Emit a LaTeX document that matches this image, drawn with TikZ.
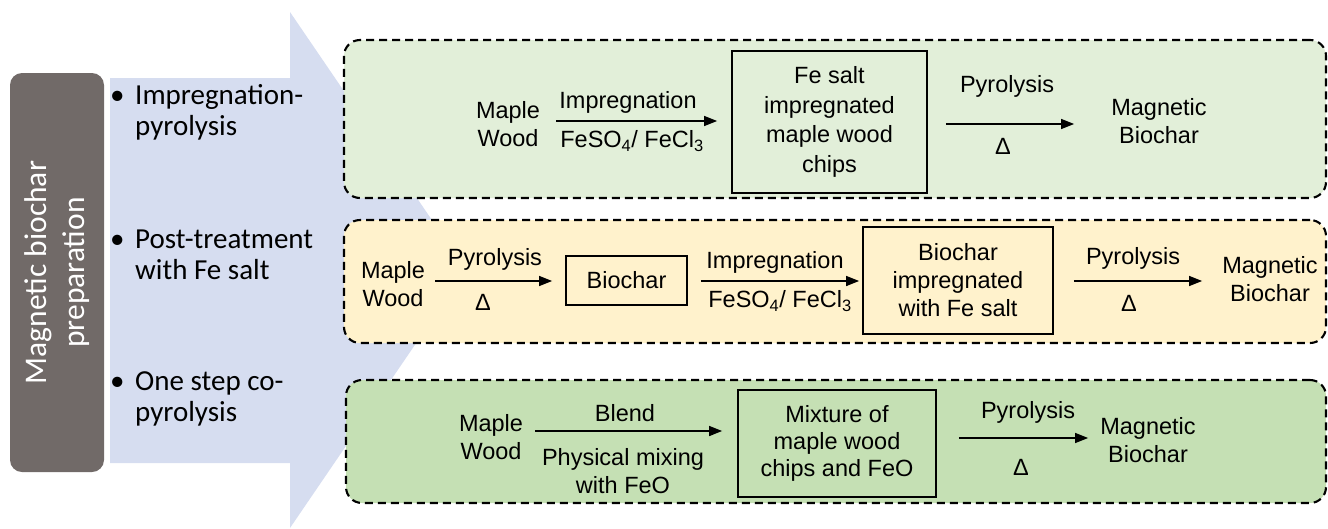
\documentclass[tikz,border=0pt]{standalone}
\usepackage{fontspec}
\setmainfont{Liberation Sans}
\newfontfamily\calib{Carlito}
\usetikzlibrary{arrows.meta,calc}
\definecolor{arrowblue}{HTML}{D6DDF0}
\definecolor{graybox}{HTML}{716A68}
\definecolor{lgreen}{HTML}{E2EFD9}
\definecolor{lyellow}{HTML}{FFF2CC}
\definecolor{mgreen}{HTML}{C5E0B4}
\begin{document}
\begin{tikzpicture}[x=1pt,y=-1pt,
  txt/.style={inner sep=0pt, align=center, font=\fontsize{23.5}{28}\selectfont},
  solidbox/.style={draw, line width=1.7pt, inner sep=0pt, align=center, font=\fontsize{23.5}{28}\selectfont},
  dashbox/.style={draw, line width=2.1pt, dash pattern=on 8pt off 5pt, rounded corners=16pt, inner sep=0pt},
  arr/.style={-{Triangle[length=13pt,width=10pt]}, line width=1.3pt},
  bulletitem/.style={anchor=west, inner sep=0pt, align=left, font=\calib\fontsize{29}{31}\selectfont}]
\useasboundingbox (0,0) rectangle (1328,528);
% big background arrow
\fill[arrowblue] (110,78) -- (290,78) -- (290,12) -- (466,270) -- (290,528) -- (290,463) -- (110,463) -- cycle;
% gray label box
\node[rotate=90, minimum width=399pt, minimum height=94pt, fill=graybox, rounded corners=12pt, text=white, align=center, inner sep=0pt, font=\calib\fontsize{31.5}{38}\selectfont] (gb) at (57,272.5) {Magnetic biochar\\preparation};
% bullets
\node[bulletitem] (bu1) at (110,112.5) {\makebox[25pt][l]{•}Impregnation-\\\hspace*{25pt}pyrolysis};
\node[bulletitem] (bu2) at (110,255) {\makebox[25pt][l]{•}Post-treatment\\\hspace*{25pt}with Fe salt};
\node[bulletitem] (bu3) at (110,399) {\makebox[25pt][l]{•}One step co-\\\hspace*{25pt}pyrolysis};
% dashed row boxes
\node[dashbox, fill=lgreen, minimum width=982pt, minimum height=158pt] (r1) at (835,119) {};
\node[dashbox, fill=lyellow, minimum width=982pt, minimum height=123pt] (r2) at (835,281.5) {};
\node[dashbox, fill=mgreen, minimum width=980pt, minimum height=123pt] (r3) at (836,441.5) {};
% row 1
\node[txt] (m1) at (508,124) {Maple\\Wood};
\node[txt] (i1) at (628,102) {Impregnation};
\node[txt] (f1) at (632,141) {FeSO\textsubscript{4}/ FeCl\textsubscript{3}};
\node[solidbox, minimum width=195pt, minimum height=142pt, font=\fontsize{23.5}{29.5}\selectfont] (b1) at (829.5,122) {Fe salt\\impregnated\\maple wood\\chips};
\node[txt] (p1) at (1007,86) {Pyrolysis};
\node[txt] (d1) at (1003,146) {Δ};
\node[txt] (o1) at (1159,121) {Magnetic\\Biochar};
\draw[arr, shorten <=16pt, shorten >=14pt] (m1.east |- 0,121) -- (b1.west |- 0,121);
\draw[arr, shorten <=18pt, shorten >=37pt] (b1.east |- 0,124) -- (o1.west |- 0,124);
% row 2
\node[txt] (m2) at (393,284) {Maple\\Wood};
\node[txt] (p2) at (495,259) {Pyrolysis};
\node[txt] (d2) at (483,302) {Δ};
\node[solidbox, minimum width=121pt, minimum height=49pt] (bc) at (626.5,280.5) {Biochar};
\node[txt] (i2) at (775,262) {Impregnation};
\node[txt] (f2) at (780,301) {FeSO\textsubscript{4}/ FeCl\textsubscript{3}};
\node[solidbox, minimum width=190pt, minimum height=107pt] (b2) at (958,280.5) {Biochar\\impregnated\\with Fe salt};
\node[txt] (p3) at (1133,258) {Pyrolysis};
\node[txt] (d3) at (1129,303) {Δ};
\node[txt] (o2) at (1270,279) {Magnetic\\Biochar};
\draw[arr, shorten <=10pt, shorten >=13pt] (m2.east |- 0,281) -- (bc.west |- 0,281);
\draw[arr, shorten <=13pt, shorten >=3pt] (bc.east |- 0,281) -- (b2.west |- 0,281);
\draw[arr, shorten <=20pt, shorten >=20pt] (b2.east |- 0,281) -- (o2.west |- 0,281);
% row 3
\node[txt] (m3) at (491,437.5) {Maple\\Wood};
\node[txt] (bl) at (625,413) {Blend};
\node[txt] (ph) at (623,471) {Physical mixing\\with FeO};
\node[solidbox, minimum width=198pt, minimum height=107pt, font=\fontsize{23.5}{27}\selectfont] (x3) at (837,443.5) {Mixture of\\maple wood\\chips and FeO};
\node[txt] (p4) at (1028,412) {Pyrolysis};
\node[txt] (d4) at (1021,467) {Δ};
\node[txt] (o3) at (1148,440.5) {Magnetic\\Biochar};
\draw[arr, shorten <=12pt, shorten >=15pt] (m3.east |- 0,431) -- (x3.west |- 0,431);
\draw[arr, shorten <=22pt, shorten >=12pt] (x3.east |- 0,438) -- (o3.west |- 0,438);
\end{tikzpicture}
\end{document}
